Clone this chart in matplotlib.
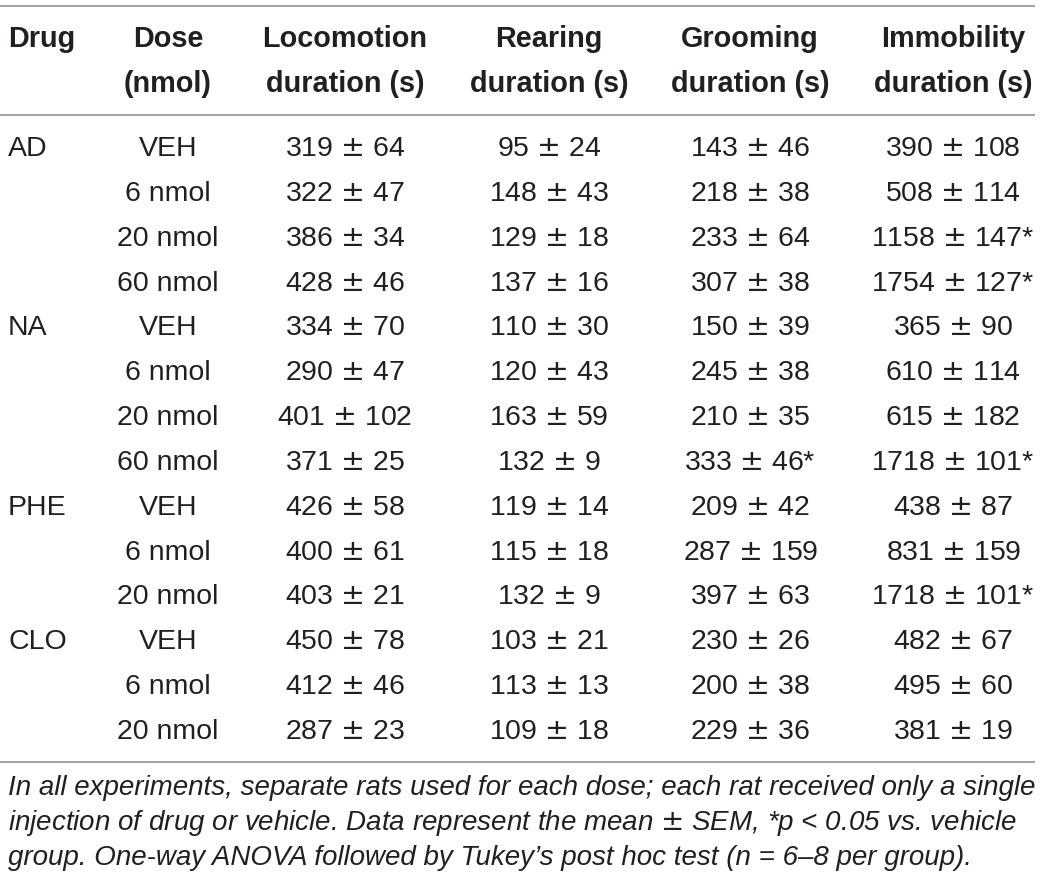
import matplotlib
matplotlib.use("Agg")
import matplotlib.pyplot as plt

# ---- data ----
header_line1 = ["Drug", "Dose", "Locomotion", "Rearing", "Grooming", "Immobility"]
header_line2 = ["", "(nmol)", "duration (s)", "duration (s)", "duration (s)", "duration (s)"]

drugs = ["AD", "", "", "", "NA", "", "", "", "PHE", "", "", "CLO", "", ""]
doses = ["VEH", "6 nmol", "20 nmol", "60 nmol",
         "VEH", "6 nmol", "20 nmol", "60 nmol",
         "VEH", "6 nmol", "20 nmol",
         "VEH", "6 nmol", "20 nmol"]

loco_mean = [319, 322, 386, 428, 334, 290, 401, 371, 426, 400, 403, 450, 412, 287]
loco_sem = [64, 47, 34, 46, 70, 47, 102, 25, 58, 61, 21, 78, 46, 23]
loco_sig = [False] * 14

rear_mean = [95, 148, 129, 137, 110, 120, 163, 132, 119, 115, 132, 103, 113, 109]
rear_sem = [24, 43, 18, 16, 30, 43, 59, 9, 14, 18, 9, 21, 13, 18]
rear_sig = [False] * 14

groom_mean = [143, 218, 233, 307, 150, 245, 210, 333, 209, 287, 397, 230, 200, 229]
groom_sem = [46, 38, 64, 38, 39, 38, 35, 46, 42, 159, 63, 26, 38, 36]
groom_sig = [False, False, False, False, False, False, False, True,
             False, False, False, False, False, False]

immo_mean = [390, 508, 1158, 1754, 365, 610, 615, 1718, 438, 831, 1718, 482, 495, 381]
immo_sem = [108, 114, 147, 127, 90, 114, 182, 101, 87, 159, 101, 67, 60, 19]
immo_sig = [False, False, True, True, False, False, False, True,
            False, False, True, False, False, False]

footnote = [
    "In all experiments, separate rats used for each dose; each rat received only a single",
    "injection of drug or vehicle. Data represent the mean $\\pm$ SEM, *p < 0.05 vs. vehicle",
    "group. One-way ANOVA followed by Tukey\u2019s post hoc test (n = 6\u20138 per group).",
]

# ---- layout ----
plt.rcParams["mathtext.fontset"] = "dejavusans"
W, H = 1040, 882
fig = plt.figure(figsize=(W / 100, H / 100), dpi=100)
ax = fig.add_axes([0, 0, 1, 1])
ax.set_xlim(0, W)
ax.set_ylim(H, 0)
ax.axis("off")

FONT = "Liberation Sans"
TXT = "#231f20"
LINE = "#a3a3a3"
FS = 20.5
HFS = 20.8

col_x = [8, 168, 345, 549, 750, 953]
col_ha = ["left", "center", "center", "center", "center", "center"]

# rules
for y in (6, 115, 762):
    ax.plot([0, 1035], [y, y], color=LINE, lw=1.5, solid_capstyle="butt")

# header
for j in range(6):
    ax.text(col_x[j], 47, header_line1[j], ha=col_ha[j], va="baseline",
            fontsize=HFS, fontweight="bold", family=FONT, color=TXT)
    if header_line2[j]:
        ax.text(col_x[j], 92, header_line2[j], ha=col_ha[j], va="baseline",
                fontsize=HFS, fontweight="bold", family=FONT, color=TXT)

def fmt(m, s, sig):
    return f"{m} $\\pm$ {s}" + ("*" if sig else "")

row0, step = 156, 44.85
cols = [(loco_mean, loco_sem, loco_sig), (rear_mean, rear_sem, rear_sig),
        (groom_mean, groom_sem, groom_sig), (immo_mean, immo_sem, immo_sig)]
for i in range(len(doses)):
    y = row0 + i * step
    if drugs[i]:
        ax.text(col_x[0], y, drugs[i], ha="left", va="baseline",
                fontsize=FS, family=FONT, color=TXT)
    ax.text(col_x[1], y, doses[i], ha="center", va="baseline",
            fontsize=FS, family=FONT, color=TXT)
    for k, (m, s, g) in enumerate(cols):
        ax.text(col_x[k + 2], y, fmt(m[i], s[i], g[i]), ha="center", va="baseline",
                fontsize=FS, family=FONT, color=TXT)

# footnote
for k, line in enumerate(footnote):
    ax.text(8, 795 + k * 35, line, ha="left", va="baseline",
            fontsize=19.95, style="italic", family=FONT, color=TXT)

fig.savefig("out.png", dpi=100)
